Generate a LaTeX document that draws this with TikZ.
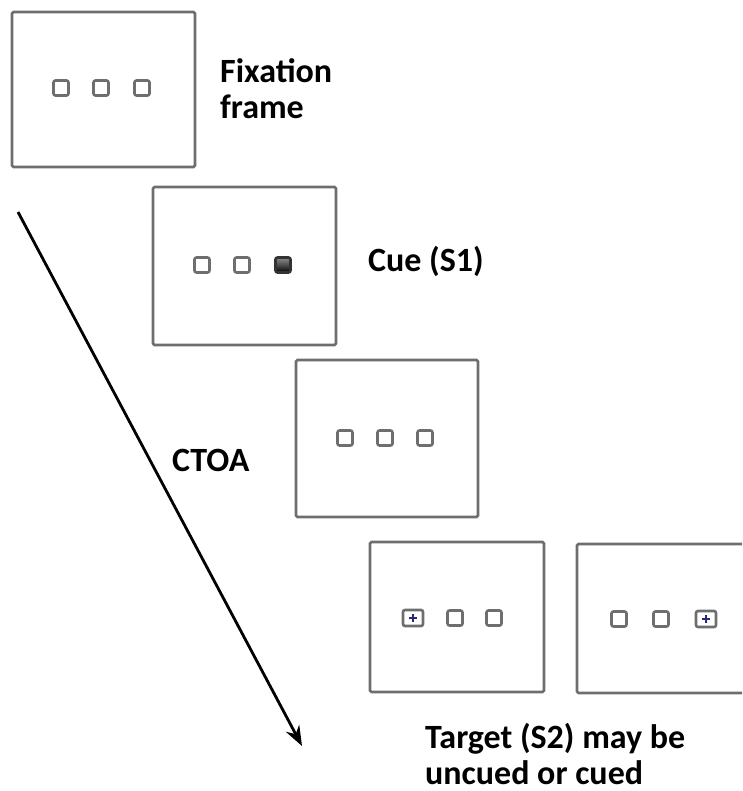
\documentclass[tikz,border=0pt]{standalone}
\usepackage{fontspec}
\setmainfont{Carlito}
\usetikzlibrary{arrows.meta,calc}
\definecolor{framegray}{RGB}{110,110,110}
\definecolor{crossblue}{RGB}{40,40,120}
\tikzset{
  x=1pt, y=-1pt,
  screen/.style={draw=framegray, line width=2.8pt, rounded corners=1.5pt, fill=white, inner sep=0pt},
  placeholder/.style={draw=framegray, line width=2.6pt, rounded corners=2pt, minimum width=15pt, minimum height=15pt, inner sep=0pt},
  cuebox/.style={placeholder, draw=black!80, top color=black!45, bottom color=black, middle color=black!70},
  targetbox/.style={placeholder, minimum width=20pt, minimum height=16pt},
  label/.style={font=\bfseries\fontsize{34}{36}\selectfont, align=left, anchor=base west, inner sep=0pt},
  timeline/.style={line width=2.8pt, -{Stealth[length=20pt,width=15pt]}}
}
\newcommand{\probe}[1]{%
  \draw[crossblue, line width=1.4pt] ($(#1)+(-4,0)$) -- ($(#1)+(4,0)$);
  \draw[crossblue, line width=1.4pt] ($(#1)+(0,-4)$) -- ($(#1)+(0,4)$);}
\begin{document}
\begin{tikzpicture}
\useasboundingbox (0,0) rectangle (742,791);
\clip (0,0) rectangle (742,791);

% fixation frame
\node[screen, minimum width=183pt, minimum height=155pt] (f1) at (103.5,89.5) {};
\node[placeholder] (f1a) at (61,88) {};
\node[placeholder] (f1b) at (101,88) {};
\node[placeholder] (f1c) at (142,88) {};

% cue frame
\node[screen, minimum width=183pt, minimum height=158pt] (f2) at (244.5,266) {};
\node[placeholder] (f2a) at (202,265) {};
\node[placeholder] (f2b) at (242,265) {};
\node[cuebox] (f2c) at (283,265) {};

% interval frame
\node[screen, minimum width=182pt, minimum height=157pt] (f3) at (387,438.5) {};
\node[placeholder] (f3a) at (345,438) {};
\node[placeholder] (f3b) at (385,438) {};
\node[placeholder] (f3c) at (425,438) {};

% target frames
\node[screen, minimum width=174pt, minimum height=150pt] (f4) at (457,617) {};
\node[targetbox] (f4a) at (413,618) {};
\node[placeholder] (f4b) at (455,618) {};
\node[placeholder] (f4c) at (494,618) {};
\probe{f4a}

\node[screen, minimum width=174pt, minimum height=149pt] (f5) at (664,618.5) {};
\node[placeholder] (f5a) at (619,619) {};
\node[placeholder] (f5b) at (661,619) {};
\node[targetbox] (f5c) at (706,619) {};
\probe{f5c}

% time axis
\coordinate (tstart) at (18,212);
\coordinate (tend) at (302,746);
\draw[timeline] (tstart) -- (tend);

% labels (base anchor sits on the last line)
\node[label] (l1) at (220,119) {Fixation\\frame};
\node[label] (l2) at (368,271) {Cue (S1)};
\node[label] (l3) at (172,471) {CTOA};
\node[label] (l4) at (425,784) {Target (S2) may be\\uncued or cued};
\end{tikzpicture}
\end{document}
